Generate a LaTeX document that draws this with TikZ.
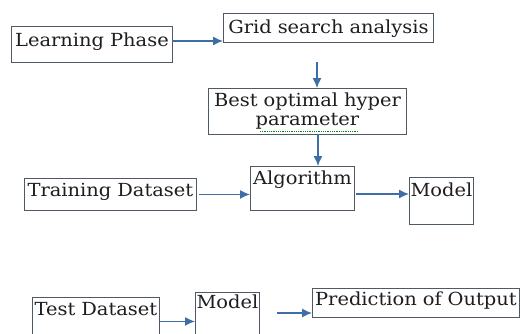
\documentclass[tikz,border=0pt]{standalone}
\usepackage{fontspec}
\setmainfont{DejaVu Serif}[FakeStretch=1.08]
\usetikzlibrary{arrows.meta}
\definecolor{boxc}{HTML}{4E5966}
\definecolor{arrc}{HTML}{3F6DA6}
\definecolor{txtc}{HTML}{1E1E1E}
\tikzset{
  bx/.style={draw=boxc, line width=0.9pt, inner sep=0pt, anchor=north west,
    align=center, text=txtc, font=\fontsize{18}{19}\selectfont},
  arr/.style={draw=arrc, line width=1.3pt, -{Latex[length=10pt,width=9pt]}}
}
\begin{document}
\begin{tikzpicture}[x=1pt,y=-1pt]
\clip (0,0) rectangle (520,333);
\fill[white] (0,0) rectangle (520,333);
\node[bx, text width=161pt, text height=20pt, text depth=16pt] (lp) at (11,26) {Learning Phase};
\node[bx, text width=210pt, text height=20pt, text depth=9pt] (gs) at (223,13) {Grid search analysis};
\node[bx, text width=198pt, text height=18pt, text depth=28pt] (bo) at (208,88) {Best optimal hyper\\parameter};
\node[bx, text width=172pt, text height=18pt, text depth=14pt] (tr) at (24,178) {Training Dataset};
\node[bx, text width=104pt, text height=18pt, text depth=26pt] (al) at (250,166) {Algorithm};
\node[bx, text width=64pt, text height=19pt, text depth=28pt] (m1) at (409,177) {Model};
\node[bx, text width=127pt, text height=18pt, text depth=30pt] (te) at (32,297) {Test Dataset};
\node[bx, text width=64pt, text height=16pt, text depth=37pt] (m2) at (195,292) {Model};
\node[bx, text width=207pt, text height=17pt, text depth=12pt] (pr) at (312,288) {Prediction of Output};
% spell-check underline
\coordinate (u1) at (260,131);
\coordinate (u2) at (358,131);
\draw[green!55!black, densely dotted, line width=0.8pt] (u1) -- (u2);
% connectors
\coordinate (c1) at (172,41);
\coordinate (c2) at (317,62);
\coordinate (c3) at (318,134);
\coordinate (c4) at (356,194);
\coordinate (c5) at (277,313);
\draw[arr] (c1) -- (c1 -| gs.west);
\draw[arr] (c2) -- (c2 |- bo.north);
\draw[arr] (c3) -- (c3 |- al.north);
\draw[arr] ([xshift=2pt]tr.east) -- (tr.east -| al.west);
\draw[arr] (c4) -- (c4 -| m1.west);
\draw[arr] (te.east) -- (te.east -| m2.west);
\draw[arr] (c5) -- (c5 -| pr.west);
\end{tikzpicture}
\end{document}
